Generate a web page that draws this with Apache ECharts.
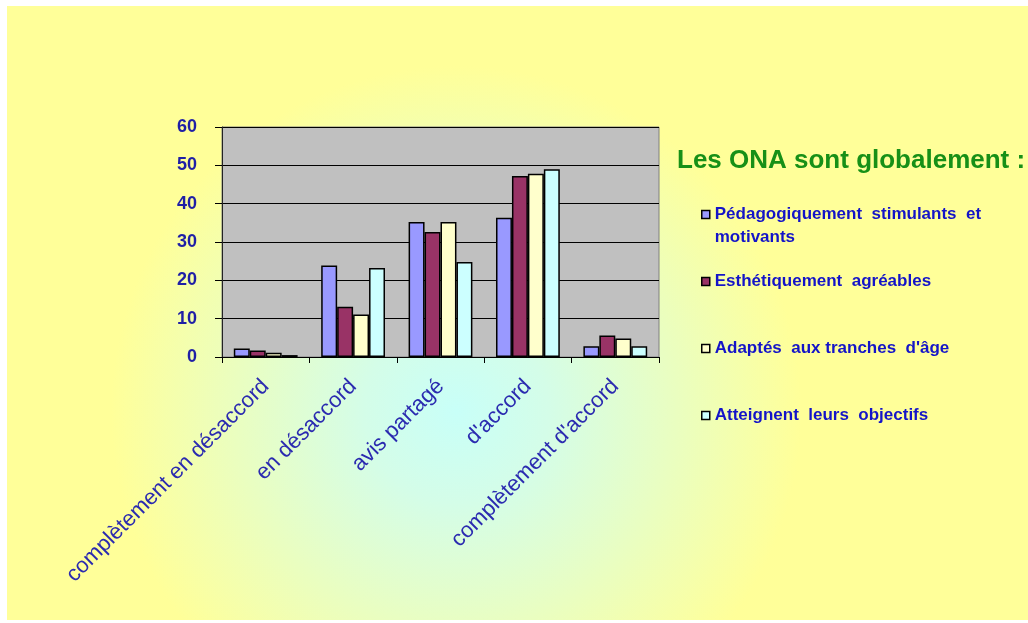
<!DOCTYPE html>
<html>
<head>
<meta charset="utf-8">
<script src="https://cdn.jsdelivr.net/npm/echarts@6/dist/echarts.min.js"></script>
<style>
  html, body { margin: 0; padding: 0; background: #fff; }
  #chart { position: absolute; left: 7px; top: 6px; width: 1021px; height: 614px; }
</style>
</head>
<body>
<div id="chart"></div>
<script>
// catégories de réponse
const categories = ['complètement en désaccord', 'en désaccord', 'avis partagé', "d'accord", "complètement d'accord"];
// séries (en %)
const seriesNames = [
  'Pédagogiquement stimulants et motivants',
  'Esthétiquement agréables',
  "Adaptés aux tranches d'âge",
  'Atteignent leurs objectifs'
];
const pedagogiques = [2.2, 23.9, 35.2, 36.3, 2.8];
const esthetiques = [1.7, 13.1, 32.6, 47.2, 5.6];
const adaptes = [1.1, 11.1, 35.2, 47.8, 4.8];
const objectifs = [0.5, 23.2, 24.8, 49.0, 2.8];
const colors = ['#9999ff', '#993366', '#ffffcc', '#ccffff'];

const legendFont = {
  fontFamily: 'Liberation Sans, Arial, sans-serif',
  fontWeight: 'bold',
  fontSize: 17,
  color: '#1414c8',
  lineHeight: 23
};

// une légende par série pour garder l'espacement de l'original
const legendTops = [174, 264, 331, 398];
const legendText = [
  '\nPédagogiquement  stimulants  et\nmotivants',
  'Esthétiquement  agréables',
  "Adaptés  aux tranches  d'âge",
  'Atteignent  leurs  objectifs'
];
const legends = seriesNames.map(function (name, i) {
  return {
    data: [name],
    left: 694,
    top: legendTops[i],
    padding: 0,
    itemWidth: 8,
    itemHeight: 8,
    icon: 'rect',
    itemStyle: { borderColor: '#000', borderWidth: 1.5 },
    textStyle: legendFont,
    formatter: function () { return legendText[i]; }
  };
});

const data = [pedagogiques, esthetiques, adaptes, objectifs];

let myChart = echarts.init(document.getElementById('chart'));
myChart.setOption({
  animation: false,
  backgroundColor: {
    type: 'radial',
    x: 0.44,
    y: 0.66,
    r: 0.75,
    colorStops: [
      { offset: 0, color: '#c8fff8' },
      { offset: 0.2, color: '#d4fde8' },
      { offset: 0.75, color: '#ffff99' },
      { offset: 1, color: '#ffff99' }
    ]
  },
  color: colors,
  title: {
    text: 'Les ONA sont globalement :',
    left: 670,
    top: 142,
    padding: 0,
    textStyle: {
      fontFamily: 'Liberation Sans, Arial, sans-serif',
      fontWeight: 'bold',
      fontSize: 26,
      color: '#179017'
    }
  },
  legend: legends,
  grid: {
    left: 215,
    top: 121,
    width: 437,
    height: 230,
    show: true,
    backgroundColor: '#c0c0c0',
    borderColor: '#808080',
    borderWidth: 1
  },
  xAxis: {
    type: 'category',
    data: categories,
    axisLine: { lineStyle: { color: '#000', width: 1 } },
    axisTick: { show: true, length: 6, lineStyle: { color: '#000' } },
    axisLabel: {
      rotate: 45,
      margin: 26,
      interval: 0,
      fontFamily: 'Liberation Sans, Arial, sans-serif',
      fontSize: 22,
      color: '#2b2bb0'
    }
  },
  yAxis: {
    type: 'value',
    min: 0,
    max: 60,
    interval: 10,
    axisLine: { show: true, lineStyle: { color: '#222', width: 1 } },
    axisTick: { show: true, length: 7, lineStyle: { color: '#000' } },
    splitLine: { lineStyle: { color: '#000', width: 1 } },
    axisLabel: {
      margin: 25,
      fontFamily: 'Liberation Sans, Arial, sans-serif',
      fontWeight: 'bold',
      fontSize: 18,
      color: '#1f1fa6'
    }
  },
  series: seriesNames.map(function (name, i) {
    return {
      name: name,
      type: 'bar',
      barGap: '0%',
      barCategoryGap: '27%',
      itemStyle: { borderColor: '#000', borderWidth: 1.5 },
      data: data[i]
    };
  })
});
</script>
</body>
</html>
